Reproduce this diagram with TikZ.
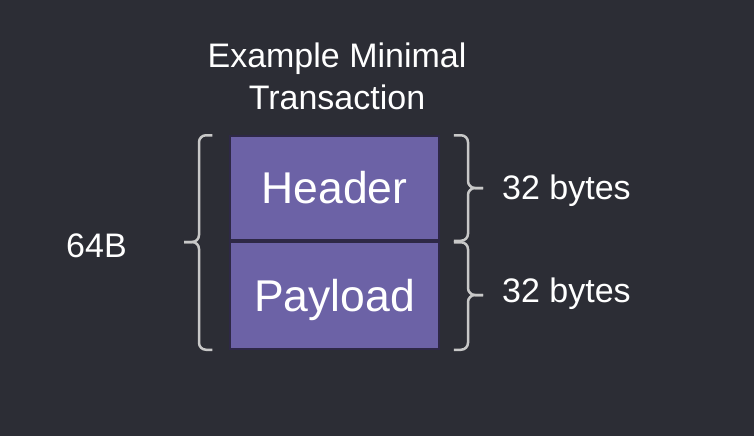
\documentclass[tikz,border=0pt]{standalone}
\usepackage{fontspec}
\setmainfont{Liberation Sans}
\definecolor{bgdark}{RGB}{44,45,53}
\definecolor{boxpurple}{RGB}{108,98,166}
\definecolor{boxedge}{RGB}{46,40,70}
\definecolor{bracegrey}{RGB}{200,200,200}

\begin{document}
\begin{tikzpicture}[x=1pt, y=1pt,
    field/.style={rectangle, draw=boxedge, fill=boxpurple, line width=1.5pt, inner sep=0pt,
      minimum width=209pt, text=white, text height=31pt, text depth=0pt,
      font=\fontsize{44.5}{50}\selectfont},
    words/.style={text=white, inner sep=0pt, font=\fontsize{34}{42}\selectfont},
    curly/.style={draw=bracegrey, line width=2.5pt, rounded corners=7pt}]
        % Background and page size
        \fill[bgdark] (0, 0) rectangle (754, -436);
        \useasboundingbox (0, 0) rectangle (754, -436);

        % Draw fields
        \node[field, minimum height=104pt] (head) at (334.5, -188) {Header};
        \node[field, minimum height=107pt] (pay) at (334.5, -295.5) {Payload};

        % Draw labels
        \node[words, align=center] (title) at (337, -76) {Example Minimal\\Transaction};
        \node[words, anchor=base west] (total) at (66, -257) {64B};
        \node[words, anchor=base west] (size1) at (502, -199) {32 bytes};
        \node[words, anchor=base west] (size2) at (502, -302) {32 bytes};

        % Brace tips
        \coordinate (ltip) at (184, -242);
        \coordinate (rtip1) at (483, -188);
        \coordinate (rtip2) at (483, -295);

        % Draw braces
        \draw[curly] ([xshift=-17pt]head.north west) -| ([xshift=15pt]ltip) -- (ltip);
        \draw[curly] ([xshift=-17pt]pay.south west) -| ([xshift=15pt]ltip) -- (ltip);
        \draw[curly] ([xshift=14pt]head.north east) -| ([xshift=-15pt]rtip1) -- (rtip1);
        \draw[curly] ([xshift=14pt]head.south east) -| ([xshift=-15pt]rtip1) -- (rtip1);
        \draw[curly] ([xshift=14pt, yshift=-1pt]pay.north east) -| ([xshift=-15pt]rtip2) -- (rtip2);
        \draw[curly] ([xshift=14pt]pay.south east) -| ([xshift=-15pt]rtip2) -- (rtip2);
\end{tikzpicture}
\end{document}
